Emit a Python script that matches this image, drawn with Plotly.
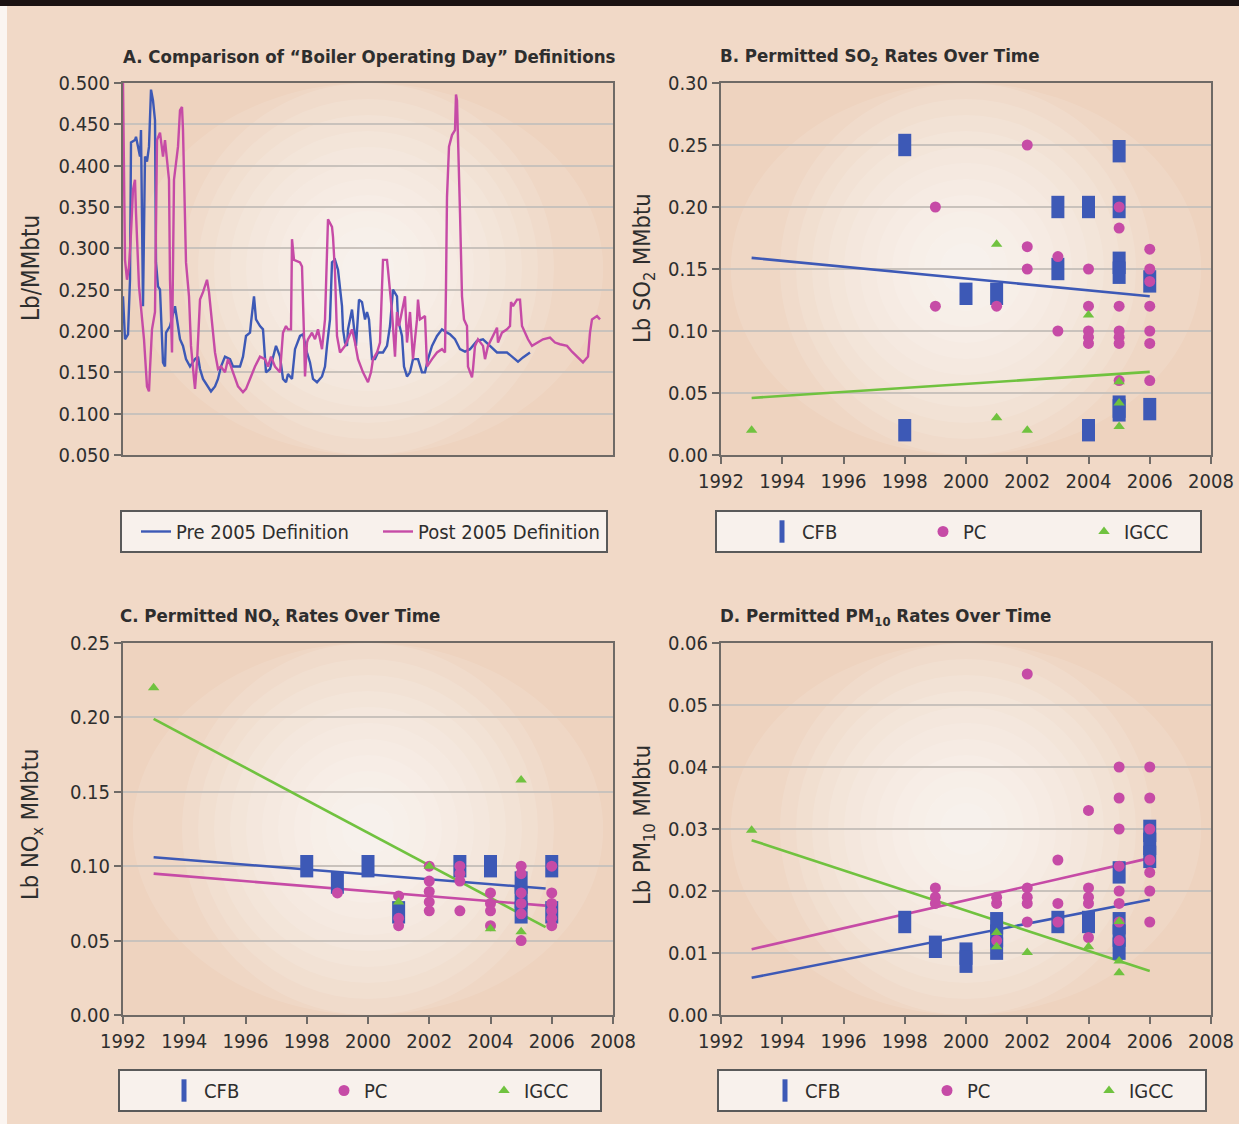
import plotly.graph_objects as go

# ---------------- Panel A: boiler operating day definitions ----------------
pre_day = [0, 2, 4, 10, 14, 16, 24, 26, 30, 34, 36, 40, 44, 48, 52, 56, 60, 64, 66, 70,
           74, 80, 84, 86, 94, 100, 104, 108, 114, 120, 126, 134, 144, 150, 154, 160, 170, 176, 184, 190,
           196, 204, 214, 220, 234, 240, 246, 254, 256, 262, 266, 274, 280, 284, 286, 294, 300, 306, 314, 320,
           326, 330, 338, 344, 354, 360, 368, 374, 380, 388, 398, 404, 408, 414, 418, 424, 430, 434, 438, 440,
           444, 448, 450, 458, 462, 466, 472, 478, 484, 488, 492, 498, 504, 510, 520, 528, 534, 540, 548, 550,
           558, 562, 568, 574, 580, 590, 598, 604, 610, 618, 628, 638, 648, 654, 664, 674, 684, 694, 708, 720,
           734, 748, 768, 780, 790, 800, 814]
pre_val = [0.242, 0.206, 0.190, 0.196, 0.262, 0.428, 0.431, 0.435, 0.423, 0.411, 0.443, 0.230, 0.411, 0.405, 0.423, 0.492, 0.479, 0.455, 0.283, 0.254,
           0.250, 0.162, 0.157, 0.198, 0.206, 0.223, 0.230, 0.214, 0.190, 0.182, 0.166, 0.157, 0.166, 0.169, 0.154, 0.142, 0.133, 0.127, 0.133, 0.142,
           0.157, 0.169, 0.166, 0.157, 0.157, 0.169, 0.194, 0.198, 0.210, 0.242, 0.214, 0.206, 0.202, 0.174, 0.150, 0.154, 0.169, 0.182, 0.169, 0.142,
           0.138, 0.148, 0.142, 0.178, 0.194, 0.196, 0.174, 0.162, 0.142, 0.138, 0.145, 0.157, 0.182, 0.214, 0.283, 0.286, 0.274, 0.254, 0.230, 0.202,
           0.186, 0.182, 0.202, 0.226, 0.202, 0.182, 0.238, 0.235, 0.214, 0.223, 0.214, 0.166, 0.166, 0.174, 0.174, 0.182, 0.206, 0.250, 0.242, 0.214,
           0.194, 0.157, 0.145, 0.150, 0.166, 0.166, 0.150, 0.150, 0.166, 0.182, 0.194, 0.202, 0.198, 0.196, 0.190, 0.178, 0.175, 0.178, 0.188, 0.190,
           0.182, 0.174, 0.174, 0.168, 0.163, 0.168, 0.174]

post_day = [0, 2, 4, 8, 12, 16, 20, 24, 26, 32, 36, 42, 48, 52, 54, 58, 64, 68, 74, 76,
            80, 84, 88, 92, 94, 98, 102, 106, 110, 114, 118, 120, 124, 126, 132, 136, 142, 144, 148, 154,
            160, 164, 168, 172, 178, 184, 190, 196, 204, 210, 216, 224, 230, 240, 246, 254, 264, 274, 284, 290,
            296, 304, 314, 320, 326, 330, 336, 338, 342, 354, 358, 362, 364, 368, 370, 378, 384, 390, 398, 404,
            408, 410, 418, 420, 424, 428, 434, 444, 450, 458, 464, 470, 480, 490, 496, 500, 508, 514, 520, 528,
            530, 538, 544, 548, 552, 556, 564, 568, 574, 580, 588, 590, 594, 604, 608, 618, 628, 638, 644, 646,
            648, 652, 658, 664, 666, 668, 670, 674, 678, 682, 688, 690, 698, 700, 704, 710, 720, 724, 730, 740,
            748, 750, 758, 768, 774, 776, 780, 788, 794, 798, 804, 810, 818, 828, 840, 854, 864, 874, 888, 898,
            908, 920, 930, 934, 938, 948, 954]
post_val = [0.500, 0.383, 0.286, 0.262, 0.278, 0.319, 0.371, 0.383, 0.343, 0.254, 0.230, 0.190, 0.133, 0.127, 0.154, 0.202, 0.223, 0.431, 0.440, 0.428,
            0.411, 0.431, 0.403, 0.383, 0.262, 0.174, 0.383, 0.403, 0.423, 0.467, 0.471, 0.443, 0.343, 0.283, 0.242, 0.182, 0.142, 0.130, 0.162, 0.238,
            0.247, 0.254, 0.262, 0.247, 0.206, 0.174, 0.154, 0.157, 0.150, 0.166, 0.157, 0.142, 0.133, 0.126, 0.130, 0.142, 0.157, 0.169, 0.166, 0.157,
            0.169, 0.157, 0.150, 0.198, 0.206, 0.202, 0.202, 0.311, 0.286, 0.283, 0.278, 0.194, 0.145, 0.186, 0.190, 0.198, 0.190, 0.202, 0.178, 0.214,
            0.295, 0.335, 0.326, 0.314, 0.271, 0.194, 0.174, 0.182, 0.190, 0.202, 0.186, 0.166, 0.150, 0.138, 0.150, 0.166, 0.174, 0.186, 0.286, 0.286,
            0.274, 0.223, 0.169, 0.223, 0.206, 0.218, 0.242, 0.186, 0.223, 0.166, 0.214, 0.238, 0.214, 0.218, 0.157, 0.166, 0.174, 0.178, 0.174, 0.254,
            0.362, 0.423, 0.437, 0.443, 0.486, 0.479, 0.423, 0.343, 0.242, 0.214, 0.206, 0.157, 0.144, 0.154, 0.182, 0.190, 0.182, 0.166, 0.182, 0.194,
            0.204, 0.186, 0.198, 0.202, 0.206, 0.235, 0.230, 0.238, 0.238, 0.206, 0.198, 0.190, 0.182, 0.186, 0.190, 0.192, 0.186, 0.184, 0.182, 0.175,
            0.169, 0.162, 0.169, 0.198, 0.214, 0.218, 0.214]

# ---------------- Panel B: SO2 ----------------
so2_cfb_year = [1998, 1998, 2000, 2001, 2003, 2003, 2004, 2004, 2005, 2005, 2005, 2005, 2005, 2005, 2006, 2006]
so2_cfb = [0.25, 0.02, 0.13, 0.13, 0.20, 0.15, 0.20, 0.02, 0.245, 0.20, 0.155, 0.147, 0.039, 0.036, 0.14, 0.037]
so2_pc_year = [1999, 1999, 2001, 2002, 2002, 2002, 2003, 2003, 2004, 2004, 2004, 2004, 2004,
               2005, 2005, 2005, 2005, 2005, 2005, 2005, 2006, 2006, 2006, 2006, 2006, 2006, 2006]
so2_pc = [0.20, 0.12, 0.12, 0.25, 0.168, 0.15, 0.16, 0.10, 0.15, 0.12, 0.10, 0.095, 0.09,
          0.20, 0.183, 0.12, 0.10, 0.095, 0.09, 0.06, 0.166, 0.15, 0.14, 0.12, 0.10, 0.09, 0.06]
so2_igcc_year = [1993, 2001, 2001, 2002, 2004, 2005, 2005, 2005]
so2_igcc = [0.02, 0.17, 0.03, 0.02, 0.113, 0.059, 0.042, 0.023]
so2_trend_year = [1993, 2006]
so2_cfb_trend = [0.159, 0.128]
so2_igcc_trend = [0.046, 0.067]

# ---------------- Panel C: NOx ----------------
nox_cfb_year = [1998, 1999, 2000, 2001, 2003, 2004, 2005, 2005, 2005, 2006, 2006]
nox_cfb = [0.10, 0.089, 0.10, 0.069, 0.10, 0.10, 0.089, 0.079, 0.069, 0.10, 0.069]
nox_pc_year = [1999, 2001, 2001, 2001, 2002, 2002, 2002, 2002, 2002, 2003, 2003, 2003, 2003,
               2004, 2004, 2004, 2004, 2005, 2005, 2005, 2005, 2005, 2005, 2006, 2006, 2006, 2006, 2006, 2006]
nox_pc = [0.082, 0.08, 0.065, 0.06, 0.10, 0.09, 0.083, 0.076, 0.07, 0.10, 0.095, 0.09, 0.07,
          0.082, 0.075, 0.07, 0.06, 0.10, 0.095, 0.082, 0.075, 0.068, 0.05, 0.10, 0.082, 0.075, 0.07, 0.065, 0.06]
nox_igcc_year = [1993, 2001, 2002, 2004, 2005, 2005]
nox_igcc = [0.22, 0.076, 0.10, 0.058, 0.158, 0.056]
nox_trend_year = [1993, 2005.8]
nox_cfb_trend = [0.106, 0.085]
nox_pc_trend = [0.095, 0.0735]
nox_igcc_trend = [0.199, 0.059]

# ---------------- Panel D: PM10 ----------------
pm_cfb_year = [1998, 1999, 2000, 2000, 2001, 2001, 2001, 2003, 2004, 2005, 2005, 2005, 2005, 2006, 2006, 2006]
pm_cfb = [0.015, 0.011, 0.0099, 0.0086, 0.0148, 0.0128, 0.0107, 0.015, 0.015, 0.023, 0.0148, 0.0128, 0.0107, 0.0297, 0.0276, 0.0255]
pm_pc_year = [1999, 1999, 1999, 2001, 2001, 2001, 2002, 2002, 2002, 2002, 2002, 2003, 2003, 2003,
              2004, 2004, 2004, 2004, 2004, 2005, 2005, 2005, 2005, 2005, 2005, 2005, 2005,
              2006, 2006, 2006, 2006, 2006, 2006, 2006]
pm_pc = [0.0205, 0.019, 0.018, 0.019, 0.018, 0.012, 0.055, 0.0205, 0.019, 0.018, 0.015, 0.025, 0.018, 0.015,
         0.033, 0.0205, 0.019, 0.018, 0.0125, 0.040, 0.035, 0.030, 0.024, 0.020, 0.018, 0.015, 0.012,
         0.040, 0.035, 0.030, 0.025, 0.023, 0.020, 0.015]
pm_igcc_year = [1993, 2001, 2001, 2002, 2004, 2005, 2005, 2005]
pm_igcc = [0.0298, 0.0133, 0.011, 0.0101, 0.011, 0.0151, 0.0087, 0.0068]
pm_trend_year = [1993, 2006]
pm_cfb_trend = [0.006, 0.0186]
pm_pc_trend = [0.0106, 0.0253]
pm_igcc_trend = [0.0282, 0.0071]

# ---------------- styling ----------------
W, H = 1239, 1124
BLUE = "#3d59b6"
MAGENTA = "#c64ba6"
GREEN = "#70c23f"
PAPER = "#f1d9c7"
PLOTBG = "#eed3bf"
FONT = "Liberation Sans Narrow, Arial Narrow, DejaVu Sans Condensed, sans-serif"
TXT = "#2e2e2e"


def px(x):
    return x / W


def py(y):
    return 1 - y / H


fig = go.Figure()

# Panel A lines
fig.add_trace(go.Scatter(x=pre_day, y=pre_val, mode="lines", name="Pre 2005 Definition",
                         line=dict(color=BLUE, width=2.4), xaxis="x", yaxis="y", legend="legend"))
fig.add_trace(go.Scatter(x=post_day, y=post_val, mode="lines", name="Post 2005 Definition",
                         line=dict(color=MAGENTA, width=2.4), xaxis="x", yaxis="y", legend="legend"))


def add_scatter_panel(xa, ya, leg, cfb, pc, igcc, trends):
    # trend lines first (beneath markers)
    for tx, ty, col in trends:
        fig.add_trace(go.Scatter(x=tx, y=ty, mode="lines", line=dict(color=col, width=2.6),
                                 showlegend=False, hoverinfo="skip", xaxis=xa, yaxis=ya))
    fig.add_trace(go.Scatter(x=cfb[0], y=cfb[1], mode="markers", name="CFB",
                             marker=dict(symbol="line-ns", size=16, color=BLUE,
                                         line=dict(color=BLUE, width=13)),
                             xaxis=xa, yaxis=ya, legend=leg))
    fig.add_trace(go.Scatter(x=pc[0], y=pc[1], mode="markers", name="PC",
                             marker=dict(symbol="circle", size=11, color=MAGENTA, line=dict(width=0)),
                             xaxis=xa, yaxis=ya, legend=leg))
    fig.add_trace(go.Scatter(x=igcc[0], y=igcc[1], mode="markers", name="IGCC",
                             marker=dict(symbol="triangle-up", size=10, color=GREEN, line=dict(width=0)),
                             xaxis=xa, yaxis=ya, legend=leg))


add_scatter_panel("x2", "y2", "legend2",
                  (so2_cfb_year, so2_cfb), (so2_pc_year, so2_pc), (so2_igcc_year, so2_igcc),
                  [(so2_trend_year, so2_cfb_trend, BLUE), (so2_trend_year, so2_igcc_trend, GREEN)])
add_scatter_panel("x3", "y3", "legend3",
                  (nox_cfb_year, nox_cfb), (nox_pc_year, nox_pc), (nox_igcc_year, nox_igcc),
                  [(nox_trend_year, nox_igcc_trend, GREEN), (nox_trend_year, nox_cfb_trend, BLUE),
                   (nox_trend_year, nox_pc_trend, MAGENTA)])
add_scatter_panel("x4", "y4", "legend4",
                  (pm_cfb_year, pm_cfb), (pm_pc_year, pm_pc), (pm_igcc_year, pm_igcc),
                  [(pm_trend_year, pm_pc_trend, MAGENTA), (pm_trend_year, pm_cfb_trend, BLUE),
                   (pm_trend_year, pm_igcc_trend, GREEN)])

# axes
left_dom = [px(123), px(613)]
right_dom = [px(721), px(1211)]
top_dom = [py(455), py(83)]
bot_dom = [py(1015), py(643)]

axis_common = dict(showline=True, linecolor="#6f6a66", linewidth=2, mirror=True,
                   tickfont=dict(family=FONT, size=20, color=TXT), ticks="outside",
                   ticklen=7, tickcolor="#6f6a66", tickwidth=2, zeroline=False)
xyear = dict(axis_common, range=[1992, 2008], dtick=2, tick0=1992, showgrid=False, tickangle=0)


def yax(rng, dt, fmt, dom, anchor):
    return dict(axis_common, range=rng, dtick=dt, tick0=0, tickformat=fmt, domain=dom, anchor=anchor,
                showgrid=True, gridcolor="#c9c2bc", gridwidth=2)


fig.update_layout(
    xaxis=dict(axis_common, range=[0, 980], showticklabels=False, ticks="", showgrid=False,
               domain=left_dom, anchor="y"),
    yaxis=yax([0.05, 0.5], 0.05, ".3f", top_dom, "x"),
    xaxis2=dict(xyear, domain=right_dom, anchor="y2"),
    yaxis2=yax([0, 0.3], 0.05, ".2f", top_dom, "x2"),
    xaxis3=dict(xyear, domain=left_dom, anchor="y3"),
    yaxis3=yax([0, 0.25], 0.05, ".2f", bot_dom, "x3"),
    xaxis4=dict(xyear, domain=right_dom, anchor="y4"),
    yaxis4=yax([0, 0.06], 0.01, ".2f", bot_dom, "x4"),
)

legend_common = dict(orientation="h", xanchor="left", yanchor="top", bgcolor="#f8f1ec",
                     bordercolor="#5a5a5a", borderwidth=2,
                     font=dict(family=FONT, size=20, color=TXT), entrywidthmode="pixels")
fig.update_layout(
    legend=dict(legend_common, x=px(120), y=py(510), entrywidth=183, indentation=14),
    legend2=dict(legend_common, x=px(715), y=py(510), entrywidth=71, indentation=45),
    legend3=dict(legend_common, x=px(118), y=py(1069), entrywidth=71, indentation=44),
    legend4=dict(legend_common, x=px(717), y=py(1069), entrywidth=71, indentation=46),
)

# titles and y-axis labels
ann = []
titles = [
    ("A. Comparison of \u201cBoiler Operating Day\u201d Definitions", 121, 57),
    ("B. Permitted SO<sub>2</sub> Rates Over Time", 718, 57),
    ("C. Permitted NO<sub>x</sub> Rates Over Time", 118, 617),
    ("D. Permitted PM<sub>10</sub> Rates Over Time", 718, 617),
]
for t, x, y in titles:
    ann.append(dict(text="<b>" + t + "</b>", x=px(x), y=py(y), xref="paper", yref="paper",
                    xanchor="left", yanchor="middle", showarrow=False,
                    font=dict(family=FONT, size=18.5, color=TXT)))
ylabels = [
    ("Lb/MMbtu", 31, 268, 24),
    ("Lb SO<sub>2</sub> MMbtu", 643, 268, 23.5),
    ("Lb NO<sub>x</sub> MMbtu", 31, 825, 23.5),
    ("Lb PM<sub>10</sub> MMbtu", 643, 825, 23.5),
]
for t, x, y, s in ylabels:
    ann.append(dict(text=t, x=px(x), y=py(y), xref="paper", yref="paper", textangle=-90,
                    xanchor="center", yanchor="middle", showarrow=False,
                    font=dict(family=FONT, size=s, color=TXT)))

# background decorations: radial glow in each plot area, top black band, left strip
shapes = [
    dict(type="rect", xref="paper", yref="paper", x0=0, x1=1, y0=py(6), y1=1,
         fillcolor="#1b1212", line=dict(width=0), layer="above"),
    dict(type="rect", xref="paper", yref="paper", x0=0, x1=px(7), y0=0, y1=py(6),
         fillcolor="#fbf5f1", line=dict(width=0), layer="below"),
]
for xa, ya in [("x", "y"), ("x2", "y2"), ("x3", "y3"), ("x4", "y4")]:
    shapes.append(dict(type="circle", xref=xa + " domain", yref=ya + " domain",
                       x0=0.02, x1=0.98, y0=0.0, y1=1.0, fillcolor="white", opacity=0.10,
                       line=dict(width=0), layer="below"))
    for r in range(186, 10, -16):
        rx = r / 490
        ry = r / 372
        shapes.append(dict(type="circle", xref=xa + " domain", yref=ya + " domain",
                           x0=0.5 - rx, x1=0.5 + rx, y0=0.5 - ry, y1=0.5 + ry,
                           fillcolor="white", opacity=0.11, line=dict(width=0), layer="below"))

fig.update_layout(
    width=W, height=H, margin=dict(l=0, r=0, t=0, b=0, autoexpand=False),
    paper_bgcolor=PAPER, plot_bgcolor=PLOTBG,
    annotations=ann, shapes=shapes,
    font=dict(family=FONT, color=TXT),
)

fig.write_html(
    "out.html",
    config={"displayModeBar": False},
    post_script="document.body.style.margin='0';document.documentElement.style.overflow='hidden';",
)
